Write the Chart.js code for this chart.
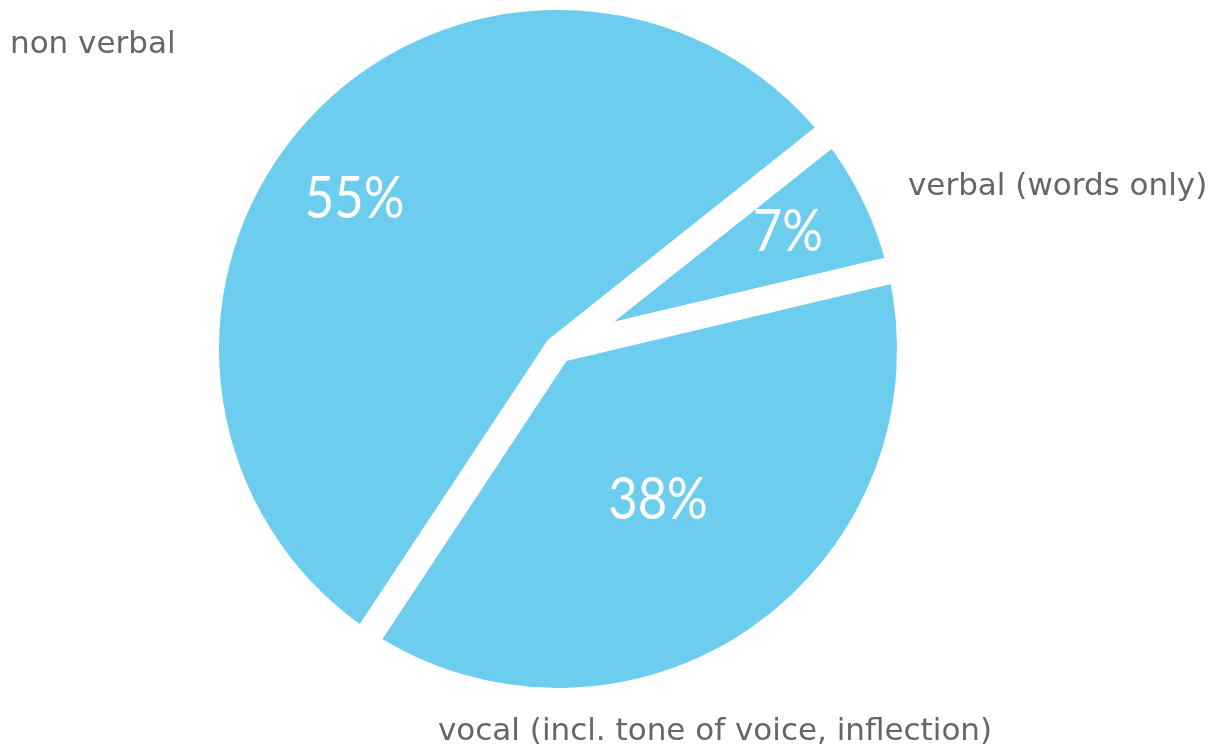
<!DOCTYPE html>
<html>
<head>
<meta charset="utf-8">
<script src="https://cdn.jsdelivr.net/npm/chart.js@4.4.1/dist/chart.umd.min.js"></script>
<style>
  html, body { margin: 0; padding: 0; background: #ffffff; }
  #wrap { position: relative; width: 1221px; height: 749px; }
</style>
</head>
<body>
<div id="wrap"><canvas id="c" width="1221" height="749"></canvas></div>
<script>
// ---- data ----
const categories = ['verbal (words only)', 'vocal (incl. tone of voice, inflection)', 'non verbal'];
const shares = [7, 38, 55];
const shareLabels = ['7%', '38%', '55%'];

// ---- styles ----
const sliceColor = '#6dcdef';
const textGray = '#666666';
const gap = 27;

// label plugin: percentages inside the slices (from arc geometry) and category names outside
const labelPlugin = {
  id: 'sliceLabels',
  afterDatasetsDraw(chart, args, opts) {
    const ctx = chart.ctx;
    const arcs = chart.getDatasetMeta(0).data;
    ctx.save();
    ctx.fillStyle = '#ffffff';
    ctx.textAlign = 'center';
    ctx.textBaseline = 'middle';
    ctx.font = opts.innerFont;
    arcs.forEach((arc, i) => {
      const p = arc.getProps(['x', 'y', 'startAngle', 'endAngle', 'outerRadius'], true);
      const ang = p.startAngle + (p.endAngle - p.startAngle) * opts.innerAngleFrac[i];
      const r = (p.outerRadius - gap / 2) * opts.innerFrac[i];
      ctx.save();
      ctx.translate(p.x + Math.cos(ang) * r, p.y + Math.sin(ang) * r);
      ctx.scale(opts.innerScaleX, 1);
      ctx.fillText(shareLabels[i], 0, 0);
      ctx.restore();
    });
    ctx.fillStyle = textGray;
    ctx.textAlign = 'left';
    ctx.textBaseline = 'alphabetic';
    ctx.font = opts.outerFont;
    categories.forEach((name, i) => {
      const pos = opts.outerPos[i];
      ctx.fillText(name, pos[0], pos[1]);
    });
    ctx.restore();
  }
};

new Chart(document.getElementById('c'), {
  type: 'pie',
  data: {
    labels: categories,
    datasets: [{
      data: shares,
      backgroundColor: sliceColor,
      borderColor: '#ffffff',
      borderWidth: gap,
      borderAlign: 'center',
      hoverOffset: 0
    }]
  },
  options: {
    responsive: false,
    animation: false,
    events: [],
    rotation: 51.5,
    radius: 352.5,
    layout: { padding: { left: 0, right: 105, top: 0, bottom: 51 } },
    plugins: {
      legend: { display: false },
      tooltip: { enabled: false },
      sliceLabels: {
        innerFont: '400 59px Lato, "Open Sans", sans-serif',
        innerScaleX: 0.86,
        outerFont: '31px "DejaVu Sans", sans-serif',
        innerFrac: [0.761, 0.534, 0.745],
        innerAngleFrac: [0.456, 0.51, 0.469],
        outerPos: [[908, 195], [438, 740], [10, 53]]
      }
    }
  },
  plugins: [labelPlugin]
});
</script>
</body>
</html>
